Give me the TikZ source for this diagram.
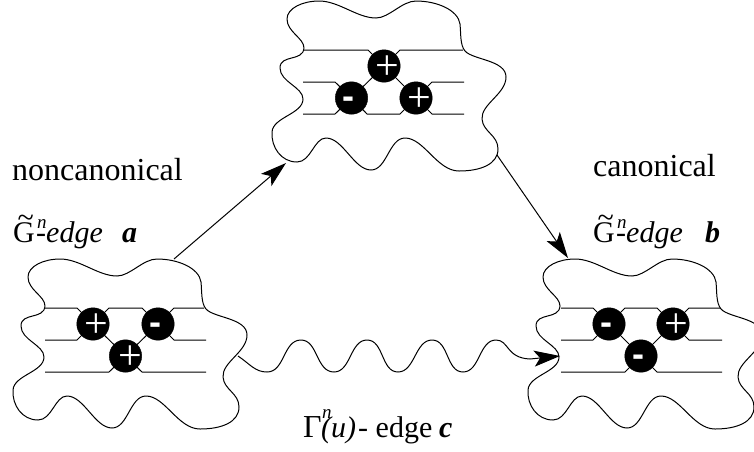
\documentclass[tikz,border=0pt]{standalone}
\usepackage{fontspec}
\setmainfont{Liberation Serif}
\newfontfamily\sansbold{Liberation Sans}[BoldFont={Liberation Sans Bold}]
\usetikzlibrary{arrows.meta}
\newcommand{\blobpath}{(28,277) .. controls (28,266) and (44,259) .. (60,259)
 .. controls (80,259) and (98,276) .. (117,276)
 .. controls (130,276) and (143,259) .. (157,259)
 .. controls (178,259) and (199,268) .. (201,282)
 .. controls (202,292) and (201,303) .. (206,309)
 .. controls (214,318) and (247,318) .. (247,335)
 .. controls (247,352) and (222,362) .. (223,377)
 .. controls (224,390) and (239,393) .. (239,407)
 .. controls (239,422) and (222,429) .. (200,429)
 .. controls (178,429) and (165,396) .. (146,396)
 .. controls (130,396) and (128,428) .. (112,428)
 .. controls (95,428) and (84,396) .. (67,396)
 .. controls (55,396) and (52,420) .. (38,420)
 .. controls (22,420) and (12,405) .. (13,390)
 .. controls (14,375) and (44,372) .. (44,357)
 .. controls (44,345) and (21,340) .. (21,326)
 .. controls (21,312) and (44,320) .. (45,306)
 .. controls (45,296) and (28,290) .. (28,277) -- cycle}
\newcommand{\plusmark}{\makebox[0pt]{\raisebox{-13pt}[0pt][0pt]{\fontsize{42}{42}\selectfont +}}}
\newcommand{\minusmark}{\makebox[0pt]{\raisebox{-10.5pt}[0pt][0pt]{\sansbold\bfseries\fontsize{36}{36}\selectfont -}}}
\tikzset{
  x=1pt,y=-1pt,
  blob/.style={draw=black,line width=1pt,line join=round},
  wire/.style={draw=black,line width=1pt},
  knot/.style={circle,fill=black,draw=black,inner sep=0pt,minimum size=32.5pt,text=white},
  link/.style={draw=black,line width=1pt,-{Stealth[length=26pt,width=16pt,inset=6pt]}},
  lab/.style={inner sep=0pt,anchor=base west,font=\fontsize{30}{30}\selectfont},
  bigl/.style={inner sep=0pt,anchor=base west,font=\fontsize{32}{32}\selectfont},
  supn/.style={inner sep=0pt,anchor=base west,font=\itshape\fontsize{19}{19}\selectfont},
}
\begin{document}
\begin{tikzpicture}
\useasboundingbox (0,0) rectangle (754,451);
% left
\draw[blob] \blobpath;
\begin{scope}[shift={(259,-258)}]\draw[blob] \blobpath;\end{scope}
\begin{scope}[shift={(515,0)}]\draw[blob] \blobpath;\end{scope}
% wires left
\coordinate (la) at (93,324); \coordinate (lb) at (158,324); \coordinate (lc) at (125.5,356);
\draw[wire] (45,308)--(77,308)--(la)--(109,308)--(142,308)--(lb)--(174,308)--(204,308);
\draw[wire] (45,340)--(77,340)--(la)--(lc)--(lb)--(174,340)--(206,340);
\draw[wire] (45,372)--(109,372)--(lc)--(142,372)--(206,372);
\node[knot] (na) at (la) {\hspace{6pt}\plusmark};
\node[knot] (nb) at (lb) {\hspace{-6pt}\minusmark};
\node[knot] (nc) at (lc) {\hspace{10pt}\plusmark};
% wires top
\coordinate (ta) at (384,66); \coordinate (tb) at (351.5,98); \coordinate (tc) at (416,98);
\draw[wire] (303,50)--(368,50)--(ta)--(400,50)--(463,50);
\draw[wire] (303,82)--(335,82)--(tb)--(ta)--(tc)--(432,82)--(464,82);
\draw[wire] (303,114)--(335,114)--(tb)--(367,114)--(400,114)--(tc)--(432,114)--(464,114);
\node[knot] (ma) at (ta) {\hspace{6pt}\plusmark};
\node[knot] (mb) at (tb) {\hspace{-6pt}\minusmark};
\node[knot] (mc) at (tc) {\hspace{6pt}\plusmark};
% wires right
\coordinate (ra) at (609,324); \coordinate (rb) at (673,324); \coordinate (rc) at (641,356);
\draw[wire] (561,308)--(593,308)--(ra)--(625,308)--(657,308)--(rb)--(689,308)--(720,308);
\draw[wire] (561,340)--(593,340)--(ra)--(rc)--(rb)--(689,340)--(722,340);
\draw[wire] (561,372)--(625,372)--(rc)--(657,372)--(722,372);
\node[knot] (pa) at (ra) {\hspace{-6pt}\minusmark};
\node[knot] (pb) at (rb) {\hspace{6pt}\plusmark};
\node[knot] (pc) at (rc) {\hspace{-6pt}\minusmark};
% connectors
\coordinate (s1) at (174,259); \coordinate (e1) at (286,163);
\coordinate (s2) at (497,155); \coordinate (e2) at (568,258);
\coordinate (s3) at (238,356); \coordinate (e3) at (560,356);
\draw[link] (s1) -- (e1);
\draw[link] (s2) -- (e2);
\draw[link] (s3) .. controls (250,364) and (255,372) .. (267,372)
  .. controls (285,372) and (283,340) .. (301,340)
  .. controls (318,340) and (316,372) .. (334,372)
  .. controls (351,372) and (350,340) .. (367,340)
  .. controls (384,340) and (381,372) .. (398,372)
  .. controls (415,372) and (415,340) .. (432,340)
  .. controls (449,340) and (446,372) .. (463,372)
  .. controls (480,372) and (479,340) .. (496,340)
  .. controls (509,340) and (506,358) .. (530,359)
  -- (e3);
% labels
\node[bigl] (t1) at (12,180) {noncanonical};
\node[bigl] (t2) at (593,176) {canonical};
\node[lab] (t3) at (13,242) {G};
\node[lab] (t3t) at (17.5,227) {\textasciitilde};
\node[supn] (t3n) at (37,228) {n};
\node[lab] (t3e) at (36,242) {\itshape -edge};
\node[lab] (t3a) at (122,242) {\bfseries\itshape a};
\node[lab] (t4) at (593,242) {G};
\node[lab] (t4t) at (597.5,227) {\textasciitilde};
\node[supn] (t4n) at (617,228) {n};
\node[lab] (t4e) at (616,242) {\itshape -edge};
\node[lab] (t4b) at (705,242) {\bfseries\itshape b};
\node[bigl] (t5) at (303,437) {Γ};
\node[supn] (t5n) at (322,418) {n};
\node[lab] (t5u) at (321,437) {\itshape (u)};
\node[lab] (t5e) at (358,437) {- edge};
\node[lab] (t5c) at (439,437) {\bfseries\itshape c};
\end{tikzpicture}
\end{document}
